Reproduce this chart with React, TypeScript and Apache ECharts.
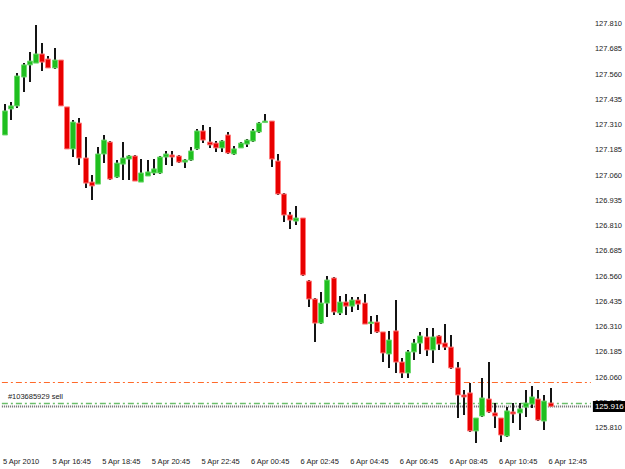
import React, { useEffect, useRef } from "react";
import * as echarts from "echarts";

// 15-minute bars, 5 Apr 2010 14:45 -> 6 Apr 2010 12:45
const barOpen = [
  127.259, 127.388, 127.403, 127.546, 127.606, 127.615, 127.660, 127.635, 127.591, 127.630,
  127.398, 127.190, 127.318, 127.145, 127.026, 127.016, 127.165, 127.224, 127.051, 127.115,
  127.140, 127.155, 127.026, 127.056, 127.071, 127.071, 127.150, 127.160, 127.155, 127.125,
  127.135, 127.190, 127.279, 127.224, 127.219, 127.195, 127.259, 127.165, 127.195, 127.214,
  127.229, 127.274, 127.323, 127.328, 127.130, 126.967, 126.863, 126.833, 126.848, 126.536,
  126.447, 126.328, 126.427, 126.551, 126.378, 126.432, 126.412, 126.442, 126.427, 126.328,
  126.333, 126.284, 126.175, 126.289, 126.135, 126.081, 126.185, 126.229, 126.259, 126.195,
  126.264, 126.229, 126.209, 126.106, 125.972, 125.982, 125.794, 125.868, 125.952, 125.883,
  125.858, 125.769, 125.888, 125.883, 125.912, 125.927, 125.952, 125.843, 125.932,
];
const barClose = [
  127.378, 127.403, 127.551, 127.606, 127.625, 127.660, 127.620, 127.591, 127.630, 127.403,
  127.190, 127.323, 127.145, 127.021, 127.007, 127.165, 127.234, 127.041, 127.120, 127.145,
  127.155, 127.031, 127.071, 127.076, 127.091, 127.150, 127.165, 127.150, 127.125, 127.135,
  127.180, 127.279, 127.234, 127.210, 127.195, 127.229, 127.170, 127.190, 127.219, 127.234,
  127.279, 127.318, 127.328, 127.140, 126.967, 126.863, 126.838, 126.848, 126.566, 126.447,
  126.328, 126.427, 126.541, 126.383, 126.432, 126.412, 126.442, 126.422, 126.323, 126.333,
  126.284, 126.180, 126.244, 126.135, 126.081, 126.185, 126.229, 126.264, 126.195, 126.259,
  126.224, 126.209, 126.106, 125.972, 125.962, 125.794, 125.858, 125.957, 125.888, 125.868,
  125.774, 125.893, 125.878, 125.903, 125.932, 125.962, 125.848, 125.942, 125.916,
];
const barLow = [
  127.259, 127.333, 127.393, 127.472, 127.521, 127.615, 127.576, 127.591, 127.586, 127.403,
  127.190, 127.150, 127.110, 126.997, 126.937, 127.016, 127.120, 127.036, 127.046, 127.036,
  127.036, 127.031, 127.026, 127.056, 127.061, 127.066, 127.110, 127.106, 127.120, 127.096,
  127.130, 127.185, 127.219, 127.195, 127.175, 127.175, 127.165, 127.160, 127.195, 127.200,
  127.224, 127.269, 127.318, 127.101, 126.962, 126.828, 126.794, 126.813, 126.561, 126.408,
  126.234, 126.323, 126.358, 126.368, 126.368, 126.368, 126.383, 126.393, 126.323, 126.274,
  126.279, 126.135, 126.106, 126.081, 126.056, 126.056, 126.145, 126.175, 126.165, 126.130,
  126.195, 126.195, 126.101, 125.858, 125.873, 125.789, 125.734, 125.863, 125.883, 125.809,
  125.739, 125.764, 125.833, 125.799, 125.863, 125.908, 125.843, 125.799, 125.912,
];
const barHigh = [
  127.412, 127.422, 127.566, 127.615, 127.670, 127.804, 127.714, 127.650, 127.690, 127.630,
  127.398, 127.333, 127.343, 127.249, 127.061, 127.200, 127.259, 127.229, 127.135, 127.224,
  127.160, 127.160, 127.140, 127.135, 127.140, 127.155, 127.180, 127.180, 127.160, 127.140,
  127.200, 127.289, 127.309, 127.299, 127.229, 127.234, 127.274, 127.205, 127.224, 127.239,
  127.289, 127.323, 127.363, 127.328, 127.165, 126.972, 126.878, 126.908, 126.848, 126.541,
  126.452, 126.482, 126.561, 126.556, 126.462, 126.472, 126.457, 126.457, 126.472, 126.363,
  126.368, 126.284, 126.289, 126.442, 126.155, 126.195, 126.249, 126.284, 126.304, 126.304,
  126.269, 126.323, 126.269, 126.135, 125.997, 126.031, 125.858, 126.056, 126.135, 125.932,
  125.858, 125.912, 125.932, 125.932, 125.997, 126.016, 125.997, 125.972, 126.007,
];

const firstBarTime = "2010-04-05T14:45";
const emptyBarsRight = 6;
const barStepMinutes = 15;
const xLabelEvery = 8;
const xLabels = [
  "5 Apr 2010", "5 Apr 16:45", "5 Apr 18:45", "5 Apr 20:45", "5 Apr 22:45", "6 Apr 00:45",
  "6 Apr 02:45", "6 Apr 04:45", "6 Apr 06:45", "6 Apr 08:45", "6 Apr 10:45", "6 Apr 12:45",
];
const priceTicks = [
  127.81, 127.685, 127.56, 127.435, 127.31, 127.185, 127.06, 126.935, 126.81, 126.685,
  126.56, 126.435, 126.31, 126.185, 126.06, 125.935, 125.81, 125.685,
];
// horizontal levels: take-profit, order (sell), bid
const levelValues = [126.036, 125.934, 125.916];
const levelNames = ["tp", "order", "bid"];
const orderLabel = "#103685929 sell";
const yMin = 125.7095;
const yMax = 127.9273;

const FONT = "Liberation Sans";

export default function App() {
  const ref = useRef<HTMLDivElement>(null);
  useEffect(() => {
    if (!ref.current) return;
    const chart = echarts.init(ref.current, null, { renderer: "svg" });
    const n = barOpen.length;
    const start = new Date(firstBarTime + ":00Z").getTime();
    const categories: string[] = [];
    for (let i = 0; i < n + emptyBarsRight; i++) {
      const d = new Date(start + i * barStepMinutes * 60000);
      categories.push(d.toISOString().slice(0, 16));
    }
    const data = barOpen.map((o, i) => [i, o, barClose[i], barLow[i], barHigh[i]]);
    const levelData = levelValues.map((v, k) => [0, v, k]);

    chart.setOption({
      animation: false,
      backgroundColor: "#ffffff",
      grid: { left: 0, right: 32, top: 0, bottom: 21, containLabel: false },
      xAxis: {
        type: "category",
        data: categories,
        boundaryGap: true,
        axisLine: { show: false },
        axisTick: { show: false },
        splitLine: { show: false },
        axisLabel: {
          interval: (idx: number) => idx % xLabelEvery === 0 && idx < n,
          formatter: (_v: string, idx: number) => xLabels[idx / xLabelEvery] ?? "",
          align: "left",
          margin: 9,
          color: "#222",
          fontFamily: FONT,
          fontSize: 7.5,
          padding: [0, 0, 0, -2],
        },
      },
      yAxis: {
        type: "value",
        position: "right",
        min: yMin,
        max: yMax,
        scale: true,
        axisLine: { show: false },
        axisTick: { show: false },
        splitLine: { show: false },
        axisLabel: {
          customValues: priceTicks,
          formatter: (v: number) => v.toFixed(3),
          margin: 4,
          color: "#222",
          fontFamily: FONT,
          fontSize: 7.5,
        },
      },
      series: [
        {
          type: "custom",
          name: "levels",
          data: levelData,
          z: 3,
          clip: false,
          silent: true,
          encode: { x: 0, y: 1 },
          renderItem: (params: any, api: any) => {
            const v = api.value(1);
            const k = api.value(2);
            const cs = params.coordSys;
            const y = Math.round(api.coord([0, v])[1]) + 0.5;
            const x1 = cs.x;
            const x2 = cs.x + cs.width;
            const name = levelNames[k];
            if (name === "tp") {
              return {
                type: "line",
                shape: { x1, y1: y, x2, y2: y },
                style: { stroke: "#ff6a2a", lineWidth: 1, lineDash: [6, 3, 2, 3] },
              };
            }
            if (name === "order") {
              return {
                type: "group",
                children: [
                  {
                    type: "line",
                    shape: { x1, y1: y, x2, y2: y },
                    style: { stroke: "#6cbf6c", lineWidth: 1.5, lineDash: [6, 3, 2, 3] },
                  },
                  {
                    type: "text",
                    x: x1 + 6,
                    y: y - 3,
                    style: {
                      text: orderLabel,
                      fill: "#222",
                      font: `7.5px "${FONT}"`,
                      align: "left",
                      verticalAlign: "bottom",
                    },
                  },
                ],
              };
            }
            return {
              type: "group",
              children: [
                {
                  type: "line",
                  shape: { x1, y1: y, x2, y2: y },
                  style: { stroke: "#6a6a6a", lineWidth: 2, lineDash: [1, 1] },
                },
                {
                  type: "text",
                  x: x2 + 2,
                  y,
                  z2: 10,
                  style: {
                    text: v.toFixed(3),
                    fill: "#fff",
                    font: `8px "${FONT}"`,
                    align: "left",
                    verticalAlign: "middle",
                    backgroundColor: "#000",
                    padding: [2, 2, 1, 2],
                  },
                },
              ],
            };
          },
        },
        {
          type: "custom",
          name: "EURJPY",
          data,
          z: 5,
          encode: { x: 0, y: [1, 2, 3, 4] },
          clip: true,
          renderItem: (_params: any, api: any) => {
            const i = api.value(0);
            const o = api.value(1);
            const c = api.value(2);
            const l = api.value(3);
            const h = api.value(4);
            const pO = api.coord([i, o]);
            const pC = api.coord([i, c]);
            const pL = api.coord([i, l]);
            const pH = api.coord([i, h]);
            const x = Math.round(pO[0]);
            const top = Math.min(pO[1], pC[1]);
            const bot = Math.max(pO[1], pC[1]);
            const up = c >= o;
            const bw = 5;
            return {
              type: "group",
              children: [
                {
                  type: "line",
                  shape: { x1: x, y1: pH[1], x2: x, y2: pL[1] },
                  style: { stroke: "#141414", lineWidth: 2 },
                },
                {
                  type: "rect",
                  shape: { x: x - bw / 2, y: top, width: bw, height: Math.max(bot - top, 1.5) },
                  style: {
                    fill: up ? "#1fbf1f" : "#e80000",
                    stroke: up ? "#6fd96f" : "#ff7a7a",
                    lineWidth: 1,
                  },
                },
              ],
            };
          },
        },
      ],
    });
    return () => chart.dispose();
  }, []);
  return (
    <div
      ref={ref}
      style={{ position: "absolute", left: 0, top: 0, width: 625, height: 469 }}
    />
  );
}
